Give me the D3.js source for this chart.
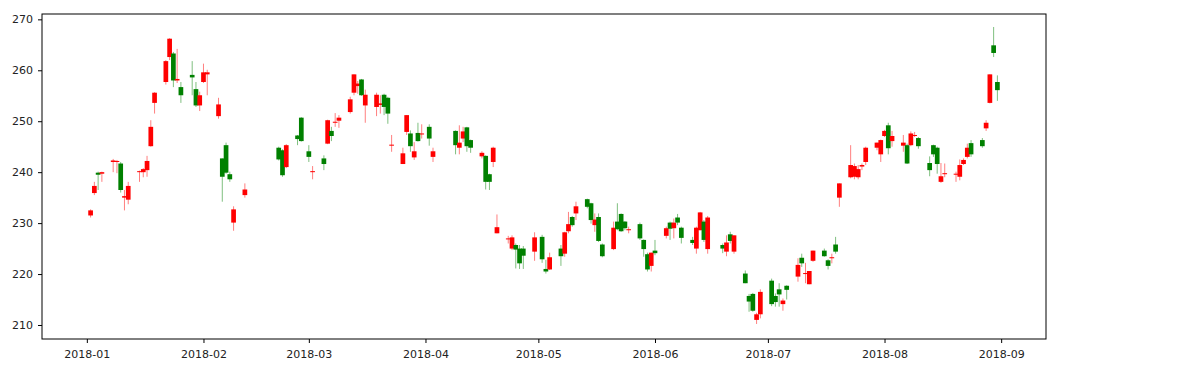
<!DOCTYPE html>
<html lang="en">
<head>
<meta charset="UTF-8" />
<script src="https://cdn.jsdelivr.net/npm/d3@7"></script>
<title>candles</title>
<style>
  body { margin: 0; background: #fff; }
  .chart { display: block; }
</style>
</head>
<body>
<svg class="chart" width="1186" height="372"></svg>
<script>
// daily OHLC
const dates = [
  '2018-01-02','2018-01-03','2018-01-04','2018-01-05','2018-01-08','2018-01-09','2018-01-10','2018-01-11','2018-01-12',
  '2018-01-15','2018-01-16','2018-01-17','2018-01-18','2018-01-19','2018-01-22','2018-01-23','2018-01-24','2018-01-25',
  '2018-01-26','2018-01-29','2018-01-30','2018-01-31','2018-02-01','2018-02-02','2018-02-05','2018-02-06','2018-02-07',
  '2018-02-08','2018-02-09','2018-02-12','2018-02-21','2018-02-22','2018-02-23','2018-02-26','2018-02-27','2018-03-01',
  '2018-03-02','2018-03-05','2018-03-06','2018-03-07','2018-03-08','2018-03-09','2018-03-12','2018-03-13','2018-03-14',
  '2018-03-15','2018-03-16','2018-03-19','2018-03-20','2018-03-21','2018-03-22','2018-03-23','2018-03-26','2018-03-27',
  '2018-03-28','2018-03-29','2018-03-30','2018-03-31','2018-04-02','2018-04-03','2018-04-09','2018-04-10','2018-04-11',
  '2018-04-12','2018-04-13','2018-04-16','2018-04-17','2018-04-18','2018-04-19','2018-04-20','2018-04-23','2018-04-24',
  '2018-04-25','2018-04-26','2018-04-27','2018-04-30','2018-05-02','2018-05-03','2018-05-04','2018-05-07','2018-05-08',
  '2018-05-09','2018-05-10','2018-05-11','2018-05-14','2018-05-15','2018-05-16','2018-05-17','2018-05-18','2018-05-21',
  '2018-05-22','2018-05-23','2018-05-24','2018-05-25','2018-05-28','2018-05-29','2018-05-30','2018-05-31','2018-06-01',
  '2018-06-04','2018-06-05','2018-06-06','2018-06-07','2018-06-08','2018-06-11','2018-06-12','2018-06-13','2018-06-14',
  '2018-06-15','2018-06-19','2018-06-20','2018-06-21','2018-06-22','2018-06-25','2018-06-26','2018-06-27','2018-06-28',
  '2018-06-29','2018-07-02','2018-07-03','2018-07-04','2018-07-05','2018-07-06','2018-07-09','2018-07-10','2018-07-11',
  '2018-07-12','2018-07-13','2018-07-16','2018-07-17','2018-07-18','2018-07-19','2018-07-20','2018-07-23','2018-07-24',
  '2018-07-25','2018-07-26','2018-07-27','2018-07-30','2018-07-31','2018-08-01','2018-08-02','2018-08-03','2018-08-06',
  '2018-08-07','2018-08-08','2018-08-09','2018-08-10','2018-08-13','2018-08-14','2018-08-15','2018-08-16','2018-08-17',
  '2018-08-20','2018-08-21','2018-08-22','2018-08-23','2018-08-24','2018-08-27','2018-08-28','2018-08-29','2018-08-30',
  '2018-08-31'
];
const opens = [
  231.5,235.9,239.9,239.7,242.0,242.0,241.7,235.0,234.6,
  240.0,240.0,240.4,245.1,253.6,257.7,262.6,263.3,258.0,
  256.7,259.1,256.3,253.1,257.7,259.2,251.0,242.7,245.3,
  239.6,230.1,235.5,244.8,244.3,241.0,247.2,250.7,244.1,
  240.0,242.7,245.6,248.1,249.7,250.1,251.8,255.6,256.9,
  258.2,253.1,252.8,253.2,255.2,254.6,245.2,241.6,247.9,
  247.6,242.9,247.7,247.4,248.9,243.0,248.1,244.8,246.6,
  248.8,246.3,243.1,243.2,239.6,242.0,228.0,226.8,225.0,
  225.7,225.0,225.0,224.4,227.3,221.0,220.9,225.0,224.0,
  228.4,231.2,231.9,234.7,233.9,229.6,231.2,225.8,224.9,
  230.3,231.8,230.3,228.6,229.8,226.7,223.9,221.6,224.6,
  227.5,230.1,229.0,231.1,229.1,226.7,225.0,228.6,230.3,
  224.9,225.7,224.4,227.8,224.4,220.1,215.7,216.1,211.0,
  212.1,218.7,215.7,217.0,214.1,217.7,219.5,223.2,220.0,
  218.0,222.6,224.6,222.7,223.1,225.8,235.0,239.0,239.1,
  239.0,241.1,242.0,244.8,243.5,247.1,249.2,246.1,245.2,
  245.3,245.3,247.1,246.7,241.8,245.3,244.8,238.1,239.6,
  239.5,239.1,241.6,243.0,245.7,246.3,248.6,253.6,264.9,
  257.7
];
const highs = [
  232.7,238.1,240.1,240.1,242.6,242.4,242.0,236.5,238.1,
  240.3,240.8,243.2,250.2,255.7,262.0,266.3,263.6,264.2,
  257.7,261.8,257.7,255.8,261.3,260.1,254.6,242.7,245.8,
  240.1,233.3,237.8,245.0,244.5,245.5,247.3,250.8,245.3,
  241.2,243.3,250.3,248.9,251.6,251.2,254.8,259.2,257.9,
  258.3,256.2,255.6,255.1,255.4,254.8,247.3,244.8,251.2,
  248.2,245.9,249.7,249.4,249.4,244.8,248.2,249.2,248.9,
  248.9,246.4,244.1,243.3,239.7,245.0,231.7,227.5,227.6,
  226.0,225.7,225.5,228.2,227.7,222.8,224.2,225.7,228.3,
  232.2,231.4,234.2,234.8,234.0,231.9,231.9,226.0,230.3,
  233.9,231.9,230.4,229.3,230.1,226.8,224.2,224.2,226.7,
  229.3,230.3,230.9,231.8,229.3,227.3,229.3,232.2,230.6,
  231.4,226.0,227.6,228.3,227.6,220.7,216.1,216.3,212.4,
  217.0,219.1,216.2,218.2,215.2,217.8,223.1,224.0,222.2,
  220.6,224.6,225.0,222.9,224.0,227.3,237.8,245.3,241.7,
  241.4,241.7,245.0,245.8,246.4,248.3,249.7,248.1,247.3,
  245.6,248.0,247.9,246.9,243.1,245.4,245.0,241.8,241.7,
  240.1,242.5,242.7,245.6,246.3,246.7,250.2,259.2,268.5,
  259.0
];
const lows = [
  231.1,235.5,236.5,238.1,240.0,239.8,236.0,232.5,233.7,
  238.1,239.0,239.1,245.0,251.5,257.2,262.0,256.7,257.5,
  253.6,255.1,252.8,252.0,257.5,255.1,250.5,234.2,239.7,
  238.1,228.5,235.0,242.3,239.1,240.8,245.3,246.0,242.0,
  238.6,240.4,245.5,246.1,248.9,248.7,251.5,255.1,255.4,
  255.0,249.7,251.0,251.5,251.2,249.5,244.0,241.6,247.3,
  244.0,242.4,246.0,246.6,245.2,242.0,243.5,243.5,245.9,
  244.0,243.8,242.7,236.6,236.5,241.0,228.0,226.0,224.7,
  221.1,221.0,221.0,222.6,222.2,220.1,220.8,221.6,223.4,
  228.0,229.3,230.6,232.9,229.9,228.3,226.3,223.3,224.7,
  228.6,228.3,228.6,228.0,226.7,223.4,220.5,220.5,223.7,
  227.0,226.7,227.0,229.6,226.0,225.7,224.0,228.6,226.3,
  224.0,224.1,223.5,226.0,224.0,218.2,212.6,212.6,210.2,
  211.3,213.7,213.6,213.6,212.8,215.0,218.5,221.4,218.2,
  218.0,222.4,223.4,220.9,222.1,224.0,233.2,238.8,238.6,
  238.6,240.4,241.4,244.3,242.0,246.9,243.5,245.0,244.0,
  241.6,245.1,246.9,244.6,239.2,243.0,239.7,237.9,239.0,
  238.1,238.4,241.4,242.7,243.0,244.8,248.1,253.5,262.6,
  254.0
];
const closes = [
  232.5,237.3,239.5,240.0,242.3,242.2,236.5,235.3,237.3,
  240.2,240.6,242.2,248.9,255.6,261.8,266.2,258.0,258.3,
  255.1,258.6,253.1,255.1,259.6,259.6,253.3,239.1,239.9,
  238.6,232.7,236.6,242.5,239.4,245.3,246.5,246.1,243.0,
  240.2,241.6,250.2,247.1,249.9,250.7,254.3,259.2,257.4,
  255.1,255.2,255.2,253.5,252.8,251.5,245.4,243.7,251.2,
  245.1,244.1,246.1,247.6,246.6,244.1,245.3,245.8,248.0,
  245.1,244.8,243.8,238.1,238.1,244.8,229.2,227.0,227.2,
  224.8,222.1,223.6,227.2,222.9,220.5,223.3,223.5,228.2,
  229.8,229.6,233.3,233.2,230.6,230.7,226.5,223.5,229.1,
  228.8,228.4,229.0,228.8,227.0,224.9,220.9,224.2,224.1,
  229.0,228.9,230.1,230.1,227.1,226.1,229.1,232.1,226.7,
  231.1,225.0,226.2,226.5,227.6,218.2,214.6,212.8,212.1,
  216.5,214.1,214.5,216.0,214.8,216.9,221.8,222.1,220.2,
  220.6,224.6,223.5,221.6,223.3,224.4,237.8,241.4,241.2,
  240.6,241.4,244.8,245.8,246.3,248.1,244.7,247.1,245.8,
  241.7,247.6,247.3,245.1,240.4,243.5,241.6,239.2,239.8,
  239.7,241.4,242.4,244.8,243.5,245.1,249.7,259.2,263.4,
  256.1
];
const yTicks = [210, 220, 230, 240, 250, 260, 270];
const xTicks = ['2018-01','2018-02','2018-03','2018-04','2018-05','2018-06','2018-07','2018-08','2018-09'];

const svg = d3.select('.chart');
const margin = { top: 14, right: 140, bottom: 33, left: 42 };
const innerWidth = +svg.attr('width') - margin.left - margin.right;
const innerHeight = +svg.attr('height') - margin.top - margin.bottom;

const parseDay = d3.utcParse('%Y-%m-%d');
const parseMonth = d3.utcParse('%Y-%m');

const candles = dates.map((d, i) => ({
  date: parseDay(d), open: opens[i], high: highs[i], low: lows[i], close: closes[i]
}));

// view limits as they show on the axes
const x = d3.scaleUtc()
  .domain([new Date(Date.UTC(2017, 11, 20, 2)), new Date(Date.UTC(2018, 8, 12, 22))])
  .range([0, innerWidth]);
const y = d3.scaleLinear().domain([207.25, 271.05]).range([innerHeight, 0]);

const g = svg.append('g').attr('transform', `translate(${margin.left},${margin.top})`);

// body width: 30 hours in time units
const bodyW = x(d3.utcHour.offset(candles[0].date, 30)) - x(candles[0].date);
const colour = d => d.close >= d.open ? '#ff0000' : '#008000';

const c = g.selectAll('.candle').data(candles).enter().append('g').attr('class', 'candle');
c.append('line')
  .attr('x1', d => x(d.date)).attr('x2', d => x(d.date))
  .attr('y1', d => y(d.high)).attr('y2', d => y(d.low))
  .attr('stroke', colour).attr('stroke-width', 1).attr('stroke-opacity', 0.5);
c.append('rect')
  .attr('x', d => x(d.date) - bodyW / 2)
  .attr('width', bodyW)
  .attr('y', d => y(Math.max(d.open, d.close)))
  .attr('height', d => Math.max(1, Math.abs(y(d.open) - y(d.close))))
  .attr('fill', colour);

const yAxis = d3.axisLeft(y).tickValues(yTicks).tickSize(4).tickPadding(5);
const xAxis = d3.axisBottom(x).tickValues(xTicks.map(parseMonth))
  .tickFormat(d3.utcFormat('%Y-%m')).tickSize(4).tickPadding(7);

const styleAxis = a => {
  a.select('.domain').remove();
  a.attr('font-family', 'DejaVu Sans').attr('font-size', 11);
  a.selectAll('.tick line').attr('stroke', '#000');
  a.selectAll('.tick text').attr('fill', '#222');
};

g.append('g').call(yAxis).call(styleAxis);
g.append('g').attr('transform', `translate(0,${innerHeight})`).call(xAxis).call(styleAxis);

// frame
g.append('rect')
  .attr('x', 0).attr('y', 0).attr('width', innerWidth).attr('height', innerHeight)
  .attr('fill', 'none').attr('stroke', '#000').attr('stroke-width', 1);
</script>
</body>
</html>
